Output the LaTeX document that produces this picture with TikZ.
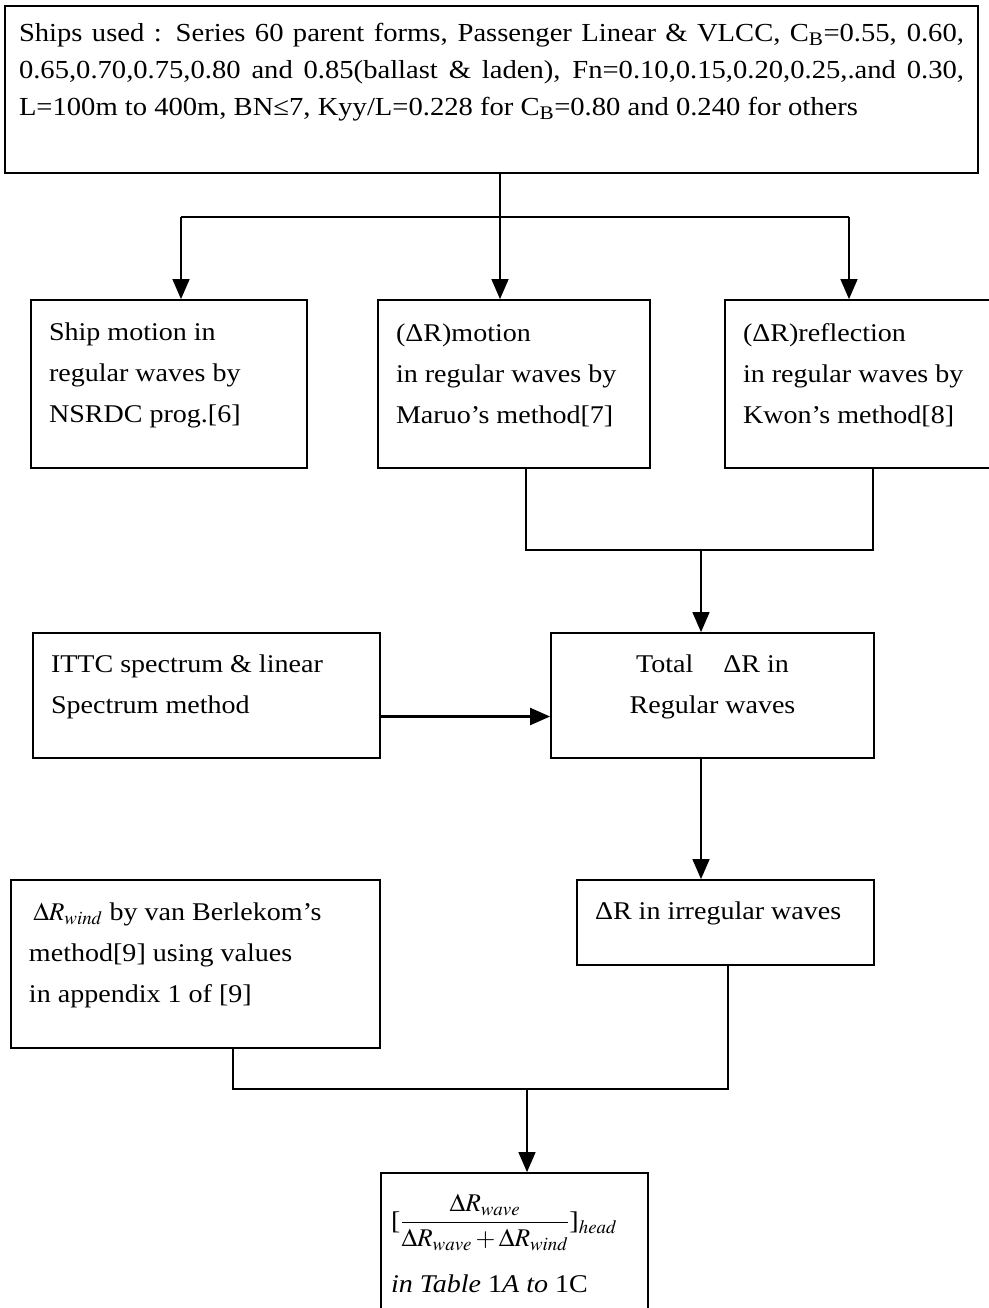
\documentclass[tikz,border=0pt]{standalone}
\usepackage{mathptmx}
\usepackage{fontspec}
\setmainfont{Liberation Serif}
\newfontfamily\boxserif[FakeStretch=1.1,Ligatures=TeX]{Liberation Serif}
\usetikzlibrary{arrows.meta}

\newcommand\topfont{\boxserif\fontsize{26}{37}\selectfont}
\newcommand\boxfont{\boxserif\fontsize{25.5}{41}\selectfont}

\tikzset{
  box/.style={draw, line width=1.8pt, inner xsep=18pt, inner ysep=0pt,
              align=left, font=\boxfont,
              execute at begin node={\spaceskip=0pt\xspaceskip=0pt},
              execute at end node={\par\vspace*{#1}}},
  box/.default=18pt,
  link/.style={line width=1.5pt},
  flow/.style={link, -{Triangle[length=20pt,width=17pt]}}
}

\begin{document}
\begin{tikzpicture}[x=1pt,y=-1pt]
  \useasboundingbox (0,0) rectangle (988,1308);

  % Input data
  \node[box=34pt, inner xsep=14pt, text width=945pt, minimum height=167pt, font=\topfont]
    (ships) at (491.5,89.5) {%
    \makebox[945pt][s]{Ships used : Series 60 parent forms, Passenger Linear \& VLCC, C\textsubscript{B}=0.55, 0.60,}\\
    \makebox[945pt][s]{0.65,0.70,0.75,0.80 and 0.85(ballast \& laden), Fn=0.10,0.15,0.20,0.25,.and 0.30,}\\
    L=100m to 400m, BN≤7, Kyy/L=0.228 for C\textsubscript{B}=0.80 and 0.240 for others};

  % Regular waves
  \node[box, text width=240pt, minimum height=168pt] (motion) at (169,384)
    {Ship motion in\\regular waves by\\NSRDC prog.[6]};
  \node[box, text width=236pt, minimum height=168pt] (maruo) at (514,384)
    {(ΔR)motion\\in regular waves by\\Maruo's method[7]};
  \node[box, text width=239pt, minimum height=168pt] (kwon) at (862.5,384)
    {(ΔR)reflection\\in regular waves by\\Kwon's method[8]};

  \node[box, text width=311pt, minimum height=125pt] (ittc) at (206.5,695.5)
    {ITTC spectrum \& linear\\Spectrum method};
  \node[box, align=center, execute at begin node={\spaceskip=.27em\relax},
        text width=287pt, minimum height=125pt]
    (total) at (712.5,695.5) {Total\hspace{30pt}ΔR in\\Regular waves};

  % Irregular waves and wind
  \node[box, text width=333pt, minimum height=168pt] (wind) at (195.5,964)
    {\,$\Delta R_{wind}$ by van Berlekom's\\method[9] using values\\in appendix 1 of [9]};
  \node[box, text width=261pt, minimum height=85pt] (irreg) at (725.5,922.5)
    {ΔR in irregular waves};

  % Result
  \node[box=4pt, inner xsep=10pt, text width=247pt, minimum height=145pt] (ratio) at (514.5,1245.5)
    {[$\displaystyle\frac{\Delta R_{wave}}{\Delta R_{wave}+\Delta R_{wind}}$]$_{head}$\\[22pt]
     \textit{in Table }1\textit{A to }1C};

  % Connectors
  \coordinate (ta) at (181,217);
  \coordinate (tb) at (500,217);
  \coordinate (tc) at (849,217);
  \draw[link] (ships.south -| tb) -- (tb);
  \draw[link] (ta) -- (tc);
  \draw[flow] (ta) -- (ta |- motion.north);
  \draw[flow] (tb) -- (tb |- maruo.north);
  \draw[flow] (tc) -- (tc |- kwon.north);

  \coordinate (mb) at (526,550);
  \coordinate (mc) at (873,550);
  \coordinate (m1) at (701,550);
  \draw[link] (maruo.south -| mb) -- (mb) -- (mc) -- (kwon.south -| mc);
  \draw[flow] (m1) -- (m1 |- total.north);

  \draw[flow, line width=2.2pt] ([yshift=-21pt]ittc.east) -- ([yshift=-21pt]total.west);
  \draw[flow] (total.south -| m1) -- (m1 |- irreg.north);

  \coordinate (mw) at (233,1089);
  \coordinate (mi) at (728,1089);
  \coordinate (m2) at (527,1089);
  \draw[link] (wind.south -| mw) -- (mw) -- (mi) -- (irreg.south -| mi);
  \draw[flow] (m2) -- (m2 |- ratio.north);
\end{tikzpicture}
\end{document}
